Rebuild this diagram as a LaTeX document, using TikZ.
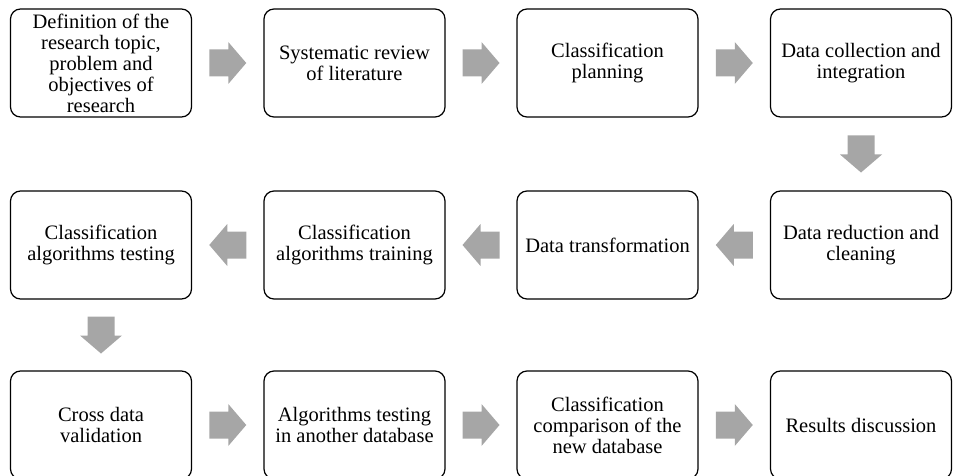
\documentclass[tikz,border=0pt]{standalone}
\usepackage{fontspec}
\setmainfont{Liberation Serif}
\usetikzlibrary{calc}
\definecolor{arrowgray}{HTML}{A6A6A6}
\begin{document}
\begin{tikzpicture}[x=1pt,y=-1pt,
  stepbox/.style={draw=black, line width=1.2pt, rounded corners=10pt,
    minimum width=181pt, minimum height=108pt, inner sep=0pt,
    align=center, font=\fontsize{20.5}{21}\selectfont},
  blockarrow/.pic={\fill[arrowgray] (-18.5,-13.5) -- (0.5,-13.5) -- (0.5,-21)
    -- (18.5,0) -- (0.5,21) -- (0.5,13.5) -- (-18.5,13.5) -- cycle;}]
\useasboundingbox (0,0) rectangle (953,476);

% first row
\node[stepbox] (s1) at (101,63) {Definition of the\\research topic,\\problem and\\objectives of\\research};
\node[stepbox] (s2) at (354.5,63) {Systematic review\\of literature};
\node[stepbox] (s3) at (607.5,63) {Classification\\planning};
\node[stepbox] (s4) at (861,63) {Data collection and\\integration};

% second row (right to left)
\node[stepbox] (s5) at (861,245) {Data reduction and\\cleaning};
\node[stepbox] (s6) at (607.5,245) {Data transformation};
\node[stepbox] (s7) at (354.5,245) {Classification\\algorithms training};
\node[stepbox] (s8) at (101,245) {Classification\\algorithms testing};

% third row
\node[stepbox] (s9) at (101,425) {Cross data\\validation};
\node[stepbox] (s10) at (354.5,425) {Algorithms testing\\in another database};
\node[stepbox] (s11) at (607.5,425) {Classification\\comparison of the\\new database};
\node[stepbox] (s12) at (861,425) {Results discussion};

% block arrows between the steps
\path ($(s1.east)!.5!(s2.west)$) pic {blockarrow};
\path ($(s2.east)!.5!(s3.west)$) pic {blockarrow};
\path ($(s3.east)!.5!(s4.west)$) pic {blockarrow};
\path ($(s4.south)!.5!(s5.north)$) pic[rotate=-90] {blockarrow};
\path ($(s5.west)!.5!(s6.east)$) pic[rotate=180] {blockarrow};
\path ($(s6.west)!.5!(s7.east)$) pic[rotate=180] {blockarrow};
\path ($(s7.west)!.5!(s8.east)$) pic[rotate=180] {blockarrow};
\path ($(s8.south)!.5!(s9.north)$) pic[rotate=-90] {blockarrow};
\path ($(s9.east)!.5!(s10.west)$) pic {blockarrow};
\path ($(s10.east)!.5!(s11.west)$) pic {blockarrow};
\path ($(s11.east)!.5!(s12.west)$) pic {blockarrow};
\end{tikzpicture}
\end{document}
